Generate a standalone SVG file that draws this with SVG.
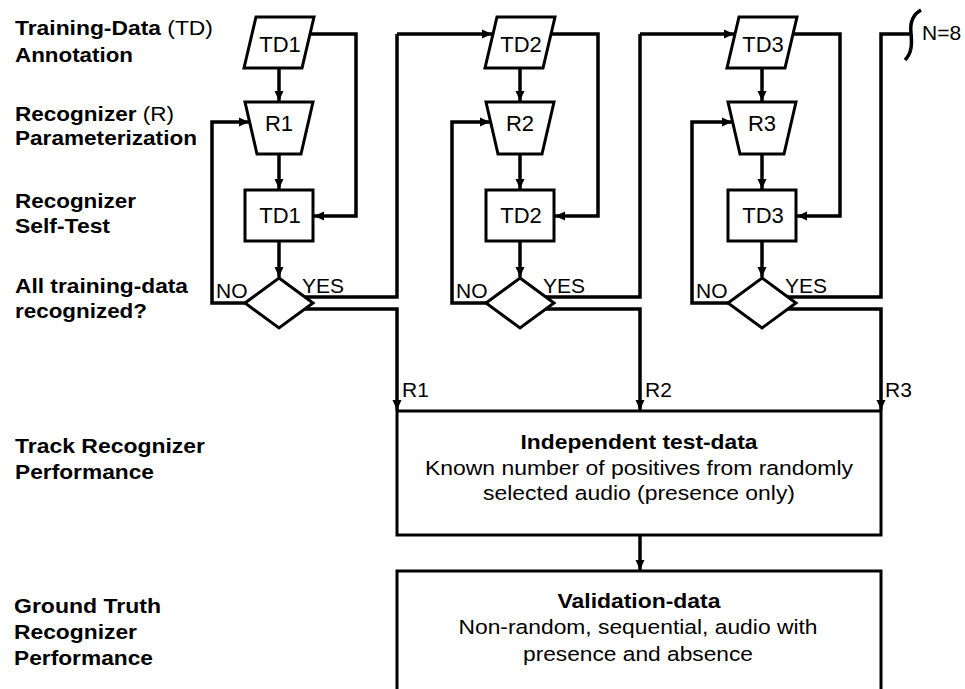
<svg xmlns="http://www.w3.org/2000/svg" width="965" height="689" viewBox="0 0 965 689">
<defs>
<marker id="ah" markerUnits="userSpaceOnUse" markerWidth="11" markerHeight="10" refX="10" refY="5" orient="auto">
<path d="M0,0.5 L10,5 L0,9.5 z" fill="#000"/>
</marker>
<style>
.s{fill:#fff;stroke:#000;stroke-width:3;stroke-linejoin:miter}
.c{fill:none;stroke:#000;stroke-width:3.5;stroke-linejoin:miter;marker-end:url(#ah)}
.l{fill:none;stroke:#000;stroke-width:3.5;stroke-linejoin:miter}
.t{font-family:"Liberation Sans",Arial,sans-serif;font-size:22px;fill:#000}
.lb{font-family:"Liberation Sans",Arial,sans-serif;font-size:20.5px;font-weight:bold;fill:#000}
.n{font-weight:normal}
.bx{font-family:"Liberation Sans",Arial,sans-serif;font-size:20.5px;fill:#000;text-anchor:middle}
.m{text-anchor:middle}
</style>
</defs>
<rect width="965" height="689" fill="#fff"/>

<g id="labels">
<text class="lb" x="15" y="35" textLength="198" lengthAdjust="spacingAndGlyphs">Training-Data <tspan class="n">(TD)</tspan></text>
<text class="lb" x="15" y="62" textLength="118" lengthAdjust="spacingAndGlyphs">Annotation</text>
<text class="lb" x="15" y="121" textLength="159" lengthAdjust="spacingAndGlyphs">Recognizer <tspan class="n">(R)</tspan></text>
<text class="lb" x="15" y="145" textLength="182" lengthAdjust="spacingAndGlyphs">Parameterization</text>
<text class="lb" x="15" y="208" textLength="121" lengthAdjust="spacingAndGlyphs">Recognizer</text>
<text class="lb" x="15" y="233" textLength="95" lengthAdjust="spacingAndGlyphs">Self-Test</text>
<text class="lb" x="15" y="293" textLength="173" lengthAdjust="spacingAndGlyphs">All training-data</text>
<text class="lb" x="15" y="318" textLength="132" lengthAdjust="spacingAndGlyphs">recognized?</text>
<text class="lb" x="15" y="453" textLength="190" lengthAdjust="spacingAndGlyphs">Track Recognizer</text>
<text class="lb" x="15" y="479" textLength="139" lengthAdjust="spacingAndGlyphs">Performance</text>
<text class="lb" x="14" y="613" textLength="147" lengthAdjust="spacingAndGlyphs">Ground Truth</text>
<text class="lb" x="14" y="639" textLength="123" lengthAdjust="spacingAndGlyphs">Recognizer</text>
<text class="lb" x="14" y="665" textLength="139" lengthAdjust="spacingAndGlyphs">Performance</text>
</g>

<g id="connectors">
<!-- column 1 (cx=279) -->
<path class="c" d="M279,68 V101"/>
<path class="c" d="M279,154 V189"/>
<path class="c" d="M279,241 V277"/>
<path class="c" d="M310,34 H356 V216 H314"/>
<path class="c" d="M245,303 H212 V122 H249"/>
<path class="l" d="M305,297 H397 V34"/>
<path class="c" d="M397,34 H492"/>
<path class="c" d="M305,309 H397 V410"/>
<!-- column 2 (cx=520) -->
<path class="c" d="M520,68 V101"/>
<path class="c" d="M520,154 V189"/>
<path class="c" d="M520,241 V277"/>
<path class="c" d="M551,34 H598 V216 H555"/>
<path class="c" d="M486,303 H452 V122 H490"/>
<path class="l" d="M546,297 H640 V34"/>
<path class="c" d="M640,34 H734"/>
<path class="c" d="M546,309 H640 V410"/>
<!-- column 3 (cx=762) -->
<path class="c" d="M762,68 V101"/>
<path class="c" d="M762,154 V189"/>
<path class="c" d="M762,241 V277"/>
<path class="c" d="M793,34 H840 V216 H797"/>
<path class="c" d="M728,303 H692 V122 H732"/>
<path class="l" d="M788,297 H881 V34 H911"/>
<path class="c" d="M788,309 H881 V410"/>
<path class="l" d="M921,10 C912,15 910,24 911,33 C912,44 912,53 905,60"/>
<!-- between main boxes -->
<path class="c" d="M640,535 V570"/>
</g>

<g id="td1">
<polygon class="s" points="256,17 314,17 302,68 244,68"/>
<text class="t m" x="280" y="52">TD1</text>
</g>
<g id="r1">
<polygon class="s" points="245,102 313,102 301,154 257,154"/>
<text class="t m" x="279" y="131">R1</text>
</g>
<g id="test1">
<rect class="s" x="245" y="190" width="68" height="51"/>
<text class="t m" x="280" y="223">TD1</text>
</g>
<g id="dec1">
<polygon class="s" points="279,278 313,303 279,328 245,303"/>
<text class="t" x="216" y="298" style="font-size:21px">NO</text>
<text class="t" x="302" y="293" style="font-size:21px">YES</text>
</g>

<g id="td2">
<polygon class="s" points="497,17 555,17 543,68 485,68"/>
<text class="t m" x="521" y="52">TD2</text>
</g>
<g id="r2">
<polygon class="s" points="486,102 554,102 542,154 498,154"/>
<text class="t m" x="520" y="131">R2</text>
</g>
<g id="test2">
<rect class="s" x="486" y="190" width="68" height="51"/>
<text class="t m" x="521" y="223">TD2</text>
</g>
<g id="dec2">
<polygon class="s" points="520,278 554,303 520,328 486,303"/>
<text class="t" x="456" y="298" style="font-size:21px">NO</text>
<text class="t" x="543" y="293" style="font-size:21px">YES</text>
</g>

<g id="td3">
<polygon class="s" points="739,17 797,17 785,68 727,68"/>
<text class="t m" x="763" y="52">TD3</text>
</g>
<g id="r3">
<polygon class="s" points="728,102 796,102 784,154 740,154"/>
<text class="t m" x="762" y="131">R3</text>
</g>
<g id="test3">
<rect class="s" x="728" y="190" width="68" height="51"/>
<text class="t m" x="763" y="223">TD3</text>
</g>
<g id="dec3">
<polygon class="s" points="762,278 796,303 762,328 728,303"/>
<text class="t" x="696" y="298" style="font-size:21px">NO</text>
<text class="t" x="785" y="293" style="font-size:21px">YES</text>
</g>

<g id="n8">
<text class="t" x="922" y="40" style="font-size:21px">N=8</text>
</g>

<g id="rlabels">
<text class="t" x="402" y="397" style="font-size:21px">R1</text>
<text class="t" x="645" y="397" style="font-size:21px">R2</text>
<text class="t" x="885" y="397" style="font-size:21px">R3</text>
</g>

<g id="independent">
<rect class="s" x="397" y="411" width="484" height="124"/>
<text class="bx" x="639" y="449" font-weight="bold" textLength="237" lengthAdjust="spacingAndGlyphs">Independent test-data</text>
<text class="bx" x="639" y="475" textLength="428" lengthAdjust="spacingAndGlyphs">Known number of positives from randomly</text>
<text class="bx" x="639" y="500" textLength="312" lengthAdjust="spacingAndGlyphs">selected audio (presence only)</text>
</g>

<g id="validation">
<rect class="s" x="397" y="571" width="484" height="140"/>
<text class="bx" x="639" y="608" font-weight="bold" textLength="163" lengthAdjust="spacingAndGlyphs">Validation-data</text>
<text class="bx" x="638" y="634" textLength="359" lengthAdjust="spacingAndGlyphs">Non-random, sequential, audio with</text>
<text class="bx" x="638" y="661" textLength="230" lengthAdjust="spacingAndGlyphs">presence and absence</text>
</g>
</svg>
